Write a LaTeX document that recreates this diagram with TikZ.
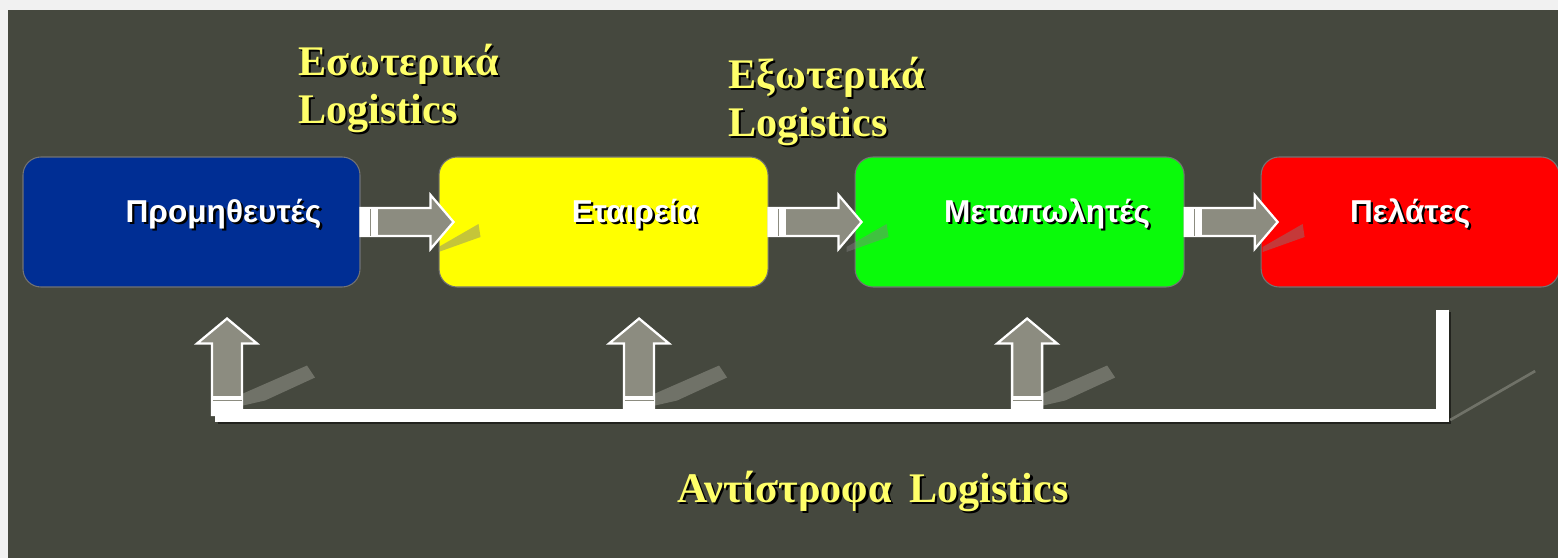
\documentclass[tikz,border=0pt]{standalone}
\usepackage{fontspec}
\setmainfont{Liberation Serif}
\setsansfont{Liberation Sans}
\usetikzlibrary{positioning}

\definecolor{panel}{RGB}{69,72,62}
\definecolor{outer}{RGB}{241,241,241}
\definecolor{supblue}{RGB}{0,46,148}
\definecolor{coyellow}{RGB}{255,255,0}
\definecolor{retgreen}{RGB}{10,250,10}
\definecolor{cusred}{RGB}{255,0,0}
\definecolor{flowgray}{RGB}{140,140,128}
\definecolor{labelyellow}{RGB}{255,255,105}
\definecolor{glarecol}{RGB}{112,114,104}

\newcommand\shadowed[1]{\rlap{\kern1.3pt\raisebox{-1.3pt}{\color{black}#1}}#1}

\tikzset{
  rarrow/.pic={
    \fill[glare] (1.56,-0.5) -- (2.36,-0.04) -- (2.4,-0.3) -- (1.56,-0.6) -- cycle;
    \draw[blockarrow] (0,0.28) -- (1.4,0.28) -- (1.4,0.54) -- (1.86,0) -- (1.4,-0.54) -- (1.4,-0.28) -- (0,-0.28) -- cycle;
    \fill[white] (0,-0.27) rectangle (0.34,0.27);
    \draw[flowgray, line width=0.8pt] (0.2,-0.27) -- (0.2,0.27);
  },
  uarrow/.pic={
    \fill[glarecol] (0.32,0.19) -- (0.32,0.43) -- (1.6,0.99) -- (1.76,0.75) -- (0.76,0.29) -- cycle;
    \draw[blockarrow] (-0.3,0) -- (-0.3,1.43) -- (-0.6,1.43) -- (0,1.93) -- (0.6,1.43) -- (0.3,1.43) -- (0.3,0) -- cycle;
    \fill[white] (-0.29,0) rectangle (0.29,0.39);
    \draw[flowgray, line width=0.8pt] (-0.29,0.29) -- (0.29,0.29);
  }
}

\begin{document}
\begin{tikzpicture}[node distance=1.56cm,
  box/.style={rectangle, rounded corners=0.36cm, minimum height=2.6cm, draw=black!55, line width=0.6pt},
  boxtext/.style={text=white, font=\sffamily\bfseries\fontsize{18}{21}\selectfont, inner sep=0pt},
  title/.style={text=labelyellow, font=\bfseries\fontsize{24}{27}\selectfont, align=left, inner sep=0pt},
  blockarrow/.style={fill=flowgray, draw=white, line width=1.3pt, line join=miter},
  glare/.style={fill=gray, opacity=0.45},
  bar/.style={draw=white, line width=0.26cm, line join=miter},
  barshadow/.style={draw=black, opacity=0.5, line width=0.26cm, line join=miter}]

\useasboundingbox (0,0) rectangle (31.16,11.16);
\fill[outer] (0,0) rectangle (31.16,11.16);
\fill[panel] (0.16,0) rectangle (31.16,10.96);

\node [box, fill=supblue, minimum width=6.74cm] (sup) at (3.83,6.72) {};
\node [box, fill=coyellow, minimum width=6.58cm] (co) [right=of sup] {};
\node [box, fill=retgreen, minimum width=6.58cm] (ret) [right=1.72cm of co] {};
\node [box, fill=cusred, minimum width=5.96cm] (cus) [right=1.52cm of ret] {};

\node [boxtext, anchor=base] (sup-t) at ([xshift=0.64cm]sup.center) {\shadowed{Προμηθευτές}};
\node [boxtext, anchor=base] (co-t) at ([xshift=0.62cm]co.center) {\shadowed{Εταιρεία}};
\node [boxtext, anchor=base] (ret-t) at ([xshift=0.55cm]ret.center) {\shadowed{Μεταπωλητές}};
\node [boxtext, anchor=base] (cus-t) at (cus.center) {\shadowed{Πελάτες}};

\pic at (sup.east) {rarrow};
\pic at (co.east) {rarrow};
\pic at (ret.east) {rarrow};

\coordinate (rt) at ([xshift=0.64cm, yshift=-0.44cm]cus.south);
\coordinate (rl) at ([xshift=0.47cm, yshift=-2.55cm]sup.south);

\pic at ([xshift=0.71cm]sup.south |- rl) {uarrow};
\pic at ([xshift=0.71cm]co.south |- rl) {uarrow};
\pic at ([xshift=0.15cm]ret.south |- rl) {uarrow};

\draw [barshadow] ([xshift=1.5pt, yshift=-1.5pt]rt) |- ([xshift=1.5pt, yshift=-1.5pt]rl);
\draw [bar] (rt) |- (rl);
\draw [glarecol, line width=1.5pt] ([xshift=0.16cm, yshift=-0.1cm]rt |- rl) -- ++(1.7,0.98);

\node [title, anchor=north west] (inb) at (5.96,10.28) {\shadowed{Εσωτερικά}\\\shadowed{Logistics}};
\node [title, anchor=north west] (outb) at (14.56,10.02) {\shadowed{Εξωτερικά}\\\shadowed{Logistics}};
\node [title, anchor=base] (rev) at (17.46,1.12) {\shadowed{Αντίστροφα \,Logistics}};
\end{tikzpicture}
\end{document}
